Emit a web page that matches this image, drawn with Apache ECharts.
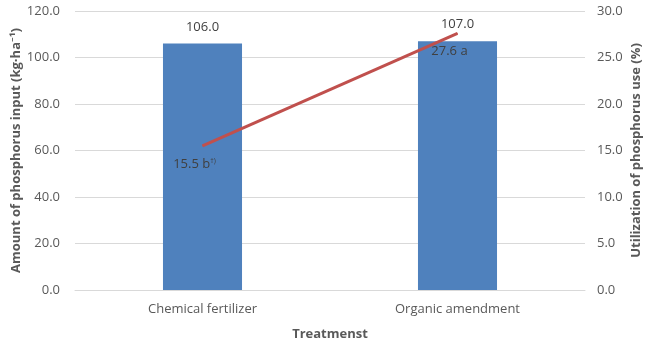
<!DOCTYPE html>
<html>
<head>
<meta charset="utf-8">
<script src="https://cdn.jsdelivr.net/npm/echarts@6/dist/echarts.min.js"></script>
<style>
  html, body { margin: 0; padding: 0; background: #fff; }
  #chart { width: 647px; height: 343px; }
</style>
</head>
<body>
<div id="chart"></div>
<script>
// data
const treatments = ["Chemical fertilizer", "Organic amendment"];
const phosphorusInput = [106.0, 107.0];
const utilization = [15.5, 27.6];
const utilLetters = ["b", "a"];
const utilNotes = ["†)", ""];

const chart = echarts.init(document.getElementById("chart"));
const txt = "#595959";
const font = "'Open Sans', 'Noto Sans', sans-serif";

const option = {
  animation: false,
  textStyle: { fontFamily: font },
  grid: { left: 75, right: 62, top: 11, bottom: 53, containLabel: false, outerBoundsMode: "none" },
  xAxis: {
    type: "category",
    data: treatments,
    name: "Treatmenst",
    nameLocation: "middle",
    nameGap: 38,
    nameMoveOverlap: false,
    nameTextStyle: { color: txt, fontSize: 13, fontWeight: "bold" },
    axisLine: { lineStyle: { color: "#d9d9d9" } },
    axisTick: { show: false },
    axisLabel: { color: txt, fontSize: 13, margin: 13 }
  },
  yAxis: [
    {
      type: "value",
      min: 0, max: 120, interval: 20,
      name: "Amount of phosphorus input (kg·ha⁻¹)",
      nameLocation: "middle",
      nameGap: 52,
      nameMoveOverlap: false,
      nameTextStyle: { color: txt, fontSize: 13, fontWeight: "bold" },
      axisLabel: { color: txt, fontSize: 13, margin: 15, formatter: v => v.toFixed(1) },
      splitLine: { lineStyle: { color: "#d9d9d9" } }
    },
    {
      type: "value",
      min: 0, max: 30, interval: 5,
      name: "Utilization of phosphorus use (%)",
      nameLocation: "middle",
      nameGap: 45,
      nameRotate: 90,
      nameMoveOverlap: false,
      nameTextStyle: { color: txt, fontSize: 13, fontWeight: "bold" },
      axisLabel: { color: txt, fontSize: 13, margin: 12, formatter: v => v.toFixed(1) },
      splitLine: { show: false }
    }
  ],
  series: [
    {
      type: "bar",
      data: phosphorusInput,
      barWidth: "31%",
      itemStyle: { color: "#4f81bd" },
      label: {
        show: true,
        position: "top",
        distance: 10,
        color: "#404040",
        fontSize: 13,
        formatter: p => p.value.toFixed(1)
      }
    },
    {
      type: "line",
      yAxisIndex: 1,
      data: utilization,
      symbol: "circle",
      symbolSize: 1,
      showSymbol: true,
      itemStyle: { color: "#c0504d" },
      lineStyle: { color: "#c0504d", width: 3 },
      label: {
        show: true,
        position: "bottom",
        distance: 11,
        offset: [-8, 0],
        color: "#404040",
        fontSize: 13,
        formatter: p => "{v|" + p.value.toFixed(1) + " " + utilLetters[p.dataIndex] + "}" +
          (utilNotes[p.dataIndex] ? "{s|" + utilNotes[p.dataIndex] + "}" : ""),
        rich: {
          v: { color: "#404040", fontSize: 13 },
          s: { color: "#404040", fontSize: 7, verticalAlign: "top", padding: [0, 0, 7, 0] }
        }
      }
    }
  ]
};
chart.setOption(option);
</script>
</body>
</html>
